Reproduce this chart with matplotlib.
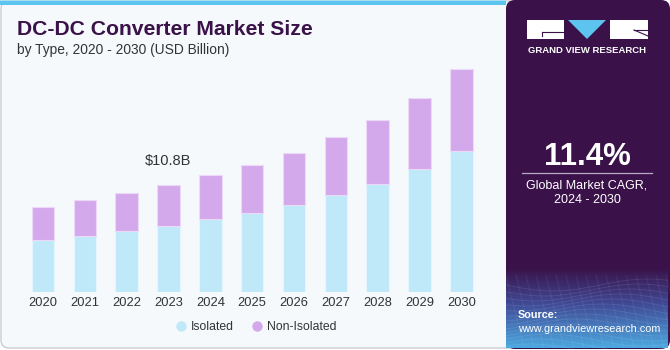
import numpy as np
import matplotlib
matplotlib.use("Agg")
import matplotlib.pyplot as plt
from matplotlib.patches import FancyBboxPatch, Rectangle, Polygon
from matplotlib.lines import Line2D

# ---- data ----
years = ["2020", "2021", "2022", "2023", "2024", "2025", "2026", "2027", "2028", "2029", "2030"]
isolated = [5.25, 5.65, 6.16, 6.66, 7.31, 7.97, 8.78, 9.76, 10.90, 12.35, 14.17]
non_isolated = [3.30, 3.57, 3.80, 4.14, 4.44, 4.85, 5.25, 5.82, 6.46, 7.23, 8.28]
series_names = ["Isolated", "Non-Isolated"]
highlight_year = "2023"
highlight_label = "$10.8B"
title = "DC-DC Converter Market Size"
subtitle = "by Type, 2020 - 2030 (USD Billion)"
cagr = "11.4%"
cagr_text = "Global Market CAGR,\n2024 - 2030"

# ---- style ----
W, H = 670, 350
BG = "#f5f9fc"
PURPLE = "#3a1249"
C_ISO = "#bfe9f9"
C_NON = "#d4a9ec"

fig = plt.figure(figsize=(W / 100, H / 100), dpi=100)
fig.patch.set_facecolor("white")

# background axes in pixel coordinates
bg = fig.add_axes([0, 0, 1, 1])
bg.set_xlim(0, W)
bg.set_ylim(H, 0)
bg.axis("off")

# left panel
bg.add_patch(FancyBboxPatch((1, 1), 520, 347, boxstyle="round,pad=0,rounding_size=8",
                            facecolor=BG, edgecolor="#c9ccd1", linewidth=1.0, zorder=0))
bg.add_patch(Rectangle((0, 0), 506, 5, facecolor="#5cc4ee", edgecolor="none", zorder=1))
bg.add_patch(Rectangle((0, 0), 506, 1.2, facecolor="#a9def5", edgecolor="none", zorder=1))

# right panel
bg.add_patch(FancyBboxPatch((506, 0), 164, 349, boxstyle="round,pad=0,rounding_size=9",
                            facecolor=PURPLE, edgecolor="none", zorder=2))
# gradient source area
grad = np.linspace(0, 1, 100)
c_top = np.array([0x3a, 0x12, 0x49]) / 255
c_mid = np.array([0x40, 0x4a, 0x96]) / 255
c_bot = np.array([0x4c, 0xa8, 0xe0]) / 255
img = np.zeros((100, 1, 3))
for i, g in enumerate(grad):
    if g < 0.45:
        t = g / 0.45
        img[i, 0] = c_top * (1 - t) + c_mid * t
    else:
        t = (g - 0.45) / 0.55
        img[i, 0] = c_mid * (1 - t) + c_bot * t
bg.imshow(img, extent=(506, 668, 348, 268), aspect="auto", zorder=3, interpolation="bilinear")
# faint mesh texture
for k in range(14):
    xs = np.linspace(506, 668, 40)
    ys = 285 + k * 5 + 6 * np.sin((xs - 506) / 30 + k * 0.3)
    bg.plot(xs, ys, color="white", alpha=0.10, lw=0.6, zorder=4)
for k in range(18):
    x0 = 506 + k * 10
    bg.plot([x0, x0 + 18], [275, 348], color="white", alpha=0.08, lw=0.6, zorder=4)
bg.set_xlim(0, W)
bg.set_ylim(H, 0)

# logo
bg.add_patch(Rectangle((527, 20), 37, 19, facecolor="white", edgecolor="none", zorder=5))
bg.plot([542, 564], [32, 32], color=PURPLE, lw=0.8, zorder=6)
bg.plot([542, 542], [32, 36], color=PURPLE, lw=0.8, zorder=6)
bg.add_patch(Polygon([[568, 20], [606, 20], [587, 39]], closed=True,
                     facecolor="#5cc4ee", edgecolor="none", zorder=5))
bg.add_patch(Rectangle((610, 20), 38, 19, facecolor="white", edgecolor="none", zorder=5))
bg.plot([634, 648], [30, 36], color=PURPLE, lw=0.8, zorder=6)
bg.plot([634, 648], [30, 30], color=PURPLE, lw=0.8, zorder=6)
bg.text(587, 50.5, "GRAND VIEW RESEARCH", color="white", fontsize=6.8, fontweight="bold",
        ha="center", va="center", family="Liberation Sans", zorder=6)

# CAGR
bg.text(587, 165, cagr, color="white", fontsize=22.5, fontweight="bold", ha="center",
        va="baseline", family="Liberation Sans", zorder=6)
bg.plot([522, 652], [173.3, 173.3], color="#b9a9c4", lw=0.9, zorder=6)
bg.text(587, 192.5, cagr_text, color="white", fontsize=9, ha="center", va="center",
        family="Liberation Sans", linespacing=1.25, zorder=6)

# source
bg.text(518, 315.5, "Source:", color="white", fontsize=7.8, fontweight="bold", ha="left",
        va="center", family="Liberation Sans", zorder=6)
bg.text(518, 329, "www.grandviewresearch.com", color="white", fontsize=7.8, ha="left",
        va="center", family="Liberation Sans", zorder=6)

# titles
bg.text(17, 35, title, color=PURPLE, fontsize=15.2, fontweight="bold", ha="left",
        va="baseline", family="Liberation Sans", zorder=6)
bg.text(17, 54, subtitle, color="#333333", fontsize=9.9, ha="left", va="baseline",
        family="Liberation Sans", zorder=6)

# ---- chart axes ----
left_px, right_px = 15.0, 489.3
base_px = 291.7
top_px = base_px - 25 / 0.1009
ax = fig.add_axes([left_px / W, (H - base_px) / H, (right_px - left_px) / W,
                   (base_px - top_px) / H])
ax.set_facecolor("none")
x = np.arange(len(years))
ax.bar(x, isolated, width=0.54, color=C_ISO, edgecolor="#e4f6fd", linewidth=0.8,
       label=series_names[0])
ax.bar(x, non_isolated, width=0.54, bottom=isolated, color=C_NON, edgecolor="#ecd8f7",
       linewidth=0.8, label=series_names[1])
ax.set_xlim(-0.67, 10.67)
ax.set_ylim(0, 25)
ax.set_xticks(x)
ax.set_xticklabels(years, fontsize=9.3, color="#333333", family="Liberation Sans")
ax.tick_params(axis="x", length=0, pad=4)
ax.set_yticks([])
for s in ax.spines.values():
    s.set_visible(False)

hi = years.index(highlight_year)
ax.annotate(highlight_label, (x[hi], isolated[hi] + non_isolated[hi]),
            xytext=(0, 12), textcoords="offset points", ha="center", va="bottom",
            fontsize=10.5, color="#333333", family="Liberation Sans")

handles = [Line2D([], [], marker="o", ls="none", markersize=7.5, markerfacecolor=C_ISO,
                  markeredgecolor="none"),
           Line2D([], [], marker="o", ls="none", markersize=7.5, markerfacecolor=C_NON,
                  markeredgecolor="none")]
fig.legend(handles, series_names, loc="center", bbox_to_anchor=(255 / W, 1 - 327 / H),
           ncol=2, frameon=False, prop={"family": "Liberation Sans", "size": 8.8},
           handletextpad=0.2, columnspacing=1.3, labelcolor="#333333", handlelength=1.2)

fig.savefig("out.png", dpi=100, facecolor=fig.get_facecolor())
